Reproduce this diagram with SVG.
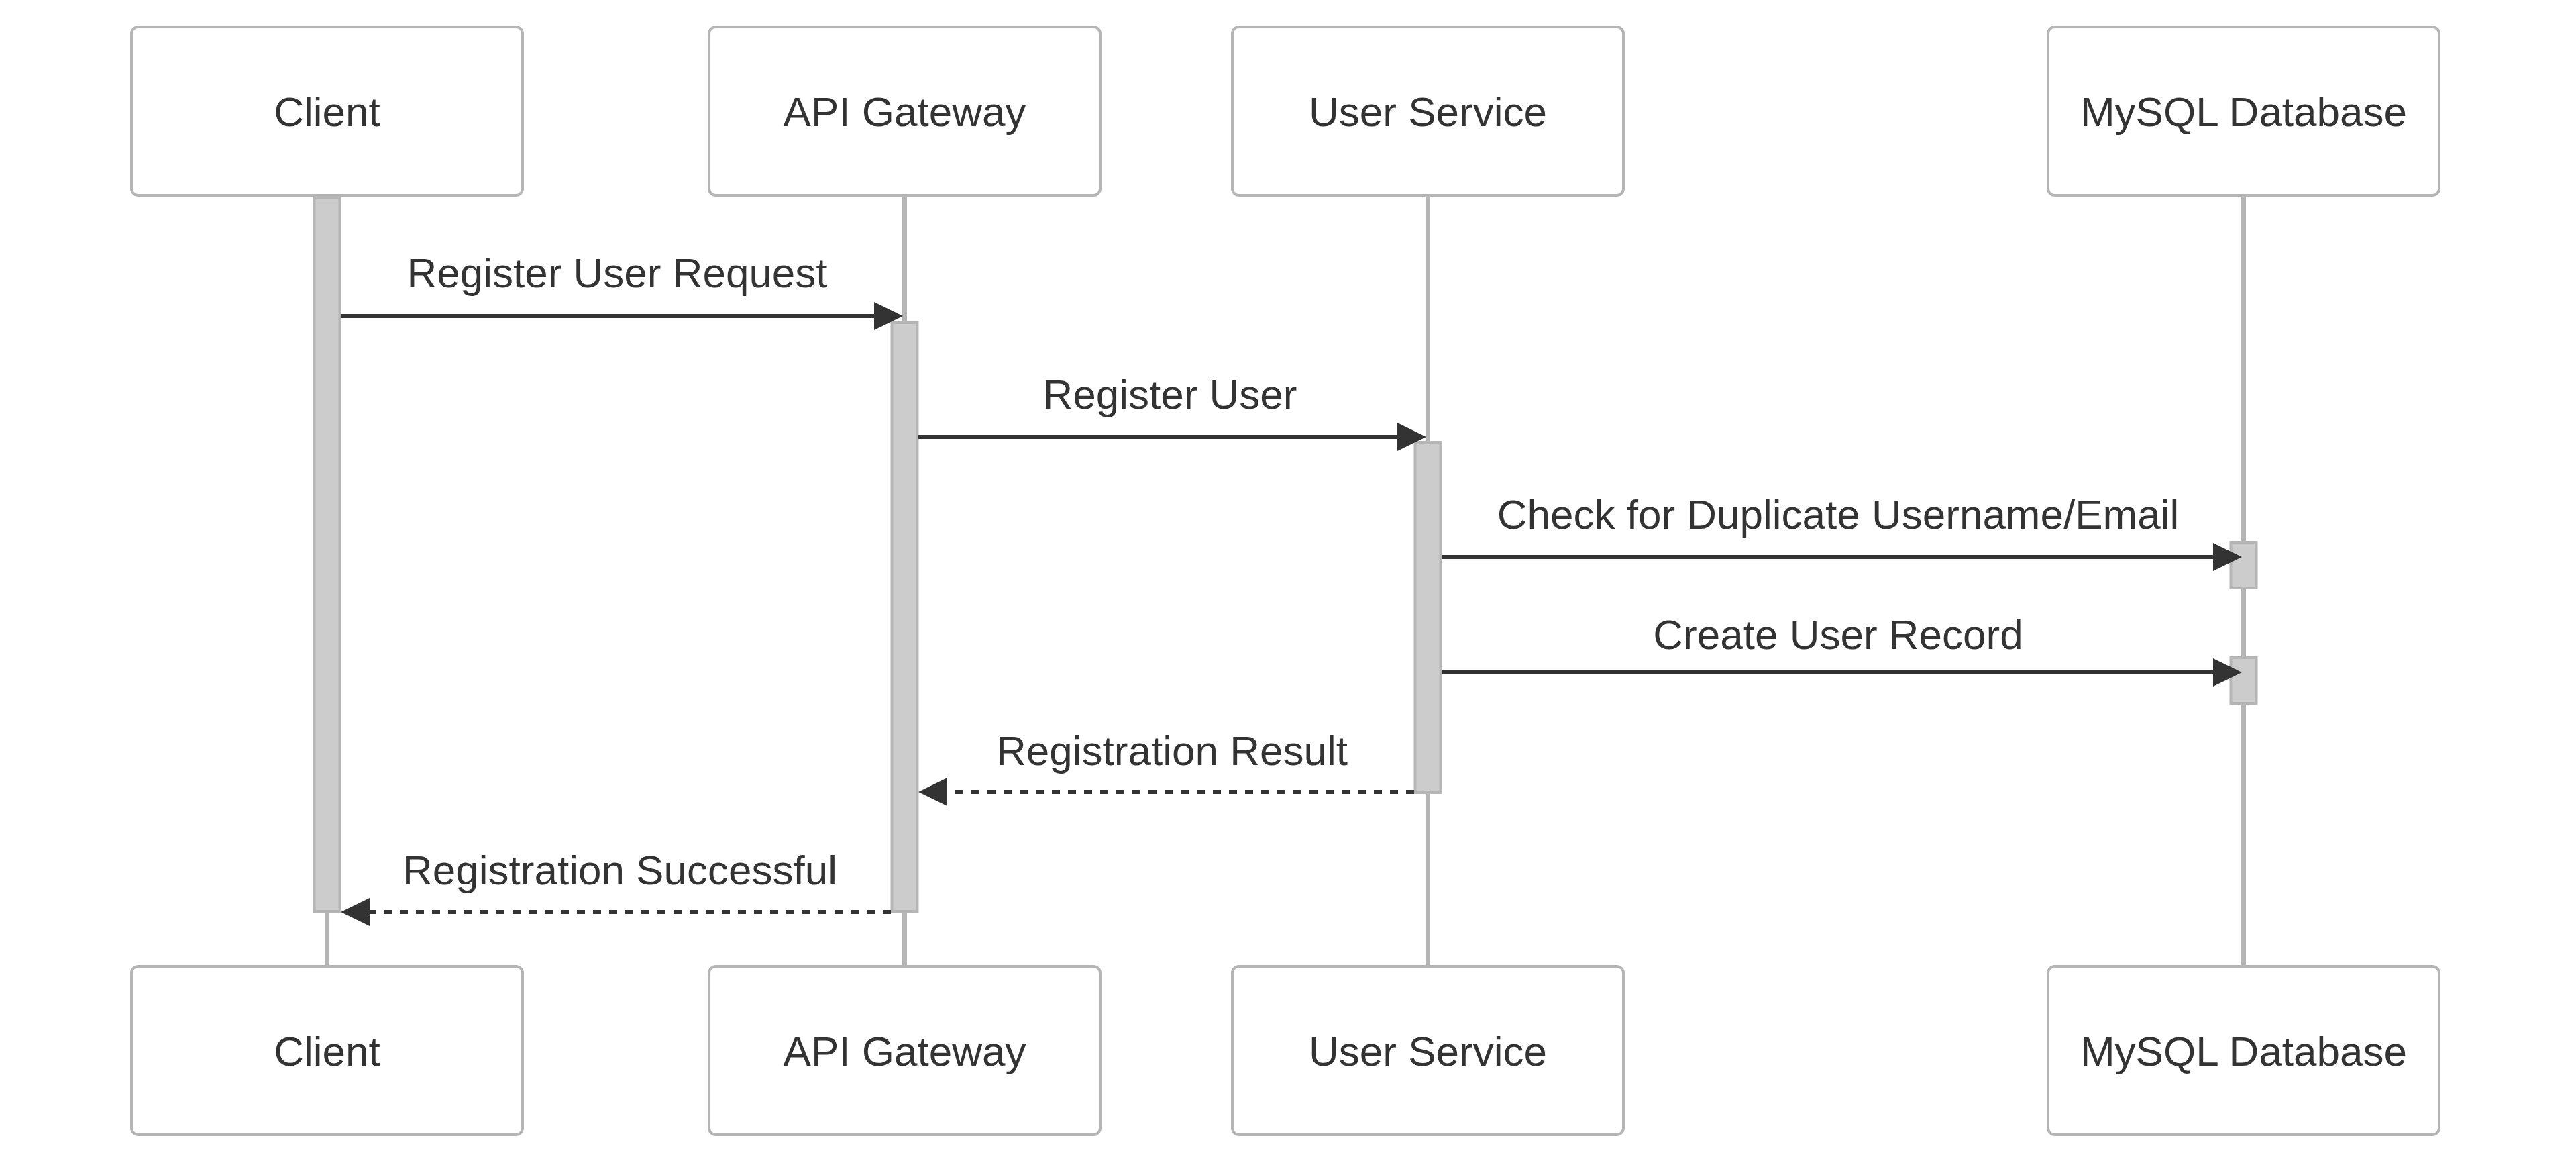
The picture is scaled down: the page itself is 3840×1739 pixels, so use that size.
<svg xmlns="http://www.w3.org/2000/svg" width="3840" height="1739" viewBox="0 0 3840 1739">
<style>
.bg{fill:#ffffff}
.actor{fill:#ffffff;stroke:#b5b5b5;stroke-width:4}
.alabel{font-family:"Liberation Sans",Arial,sans-serif;font-size:62px;fill:#333333;text-anchor:middle;dominant-baseline:central}
.life{stroke:#b5b5b5;stroke-width:7;fill:none}
.act{fill:#cccccc;stroke:#b5b5b5;stroke-width:4}
.msg{stroke:#333333;stroke-width:6;fill:none}
.dash{stroke-dasharray:12 12}
.head{fill:#333333}
.mlabel{font-family:"Liberation Sans",Arial,sans-serif;font-size:62px;fill:#333333;text-anchor:middle}
</style>
<defs>
<polygon id="ahR" class="head" points="0,0 -43,-21 -43,21"/>
<polygon id="ahL" class="head" points="0,0 43,-21 43,21"/>
</defs>
<rect class="bg" x="0" y="0" width="3840" height="1739"/>

<g id="lifelines">
<line class="life" x1="487.5" y1="292" x2="487.5" y2="1439"/>
<line class="life" x1="1348.5" y1="292" x2="1348.5" y2="1439"/>
<line class="life" x1="2128.5" y1="292" x2="2128.5" y2="1439"/>
<line class="life" x1="3344.5" y1="292" x2="3344.5" y2="1439"/>
</g>

<g id="node-client">
<rect class="actor" x="196" y="40" width="583" height="251" rx="10"/>
<text class="alabel" x="487.5" y="166">Client</text>
<rect class="actor" x="196" y="1440" width="583" height="251" rx="10"/>
<text class="alabel" x="487.5" y="1566">Client</text>
</g>
<g id="node-api">
<rect class="actor" x="1057" y="40" width="583" height="251" rx="10"/>
<text class="alabel" x="1348.5" y="166">API Gateway</text>
<rect class="actor" x="1057" y="1440" width="583" height="251" rx="10"/>
<text class="alabel" x="1348.5" y="1566">API Gateway</text>
</g>
<g id="node-user">
<rect class="actor" x="1837" y="40" width="583" height="251" rx="10"/>
<text class="alabel" x="2128.5" y="166">User Service</text>
<rect class="actor" x="1837" y="1440" width="583" height="251" rx="10"/>
<text class="alabel" x="2128.5" y="1566">User Service</text>
</g>
<g id="node-mysql">
<rect class="actor" x="3053" y="40" width="583" height="251" rx="10"/>
<text class="alabel" x="3344.5" y="166">MySQL Database</text>
<rect class="actor" x="3053" y="1440" width="583" height="251" rx="10"/>
<text class="alabel" x="3344.5" y="1566">MySQL Database</text>
</g>

<g id="activations">
<rect class="act" x="468.5" y="295" width="38" height="1063"/>
<rect class="act" x="1329.5" y="481" width="38" height="877"/>
<rect class="act" x="2109.5" y="659" width="38" height="522"/>
<rect class="act" x="3325.5" y="808" width="38" height="68"/>
<rect class="act" x="3325.5" y="980" width="38" height="68"/>
</g>

<g id="connectors">
<line class="msg" x1="508" y1="471" x2="1310" y2="471"/>
<use href="#ahR" x="1346" y="471"/>
<text class="mlabel" x="920" y="428">Register User Request</text>

<line class="msg" x1="1369" y1="651" x2="2090" y2="651"/>
<use href="#ahR" x="2126" y="651"/>
<text class="mlabel" x="1744" y="609">Register User</text>

<line class="msg" x1="2149" y1="830" x2="3306" y2="830"/>
<use href="#ahR" x="3342" y="830"/>
<text class="mlabel" x="2740" y="788">Check for Duplicate Username/Email</text>

<line class="msg" x1="2149" y1="1002" x2="3306" y2="1002"/>
<use href="#ahR" x="3342" y="1002"/>
<text class="mlabel" x="2740" y="967">Create User Record</text>

<line class="msg dash" x1="2108" y1="1180" x2="1405" y2="1180"/>
<use href="#ahL" x="1369" y="1180"/>
<text class="mlabel" x="1747" y="1140">Registration Result</text>

<line class="msg dash" x1="1328" y1="1359" x2="544" y2="1359"/>
<use href="#ahL" x="508" y="1359"/>
<text class="mlabel" x="924" y="1318">Registration Successful</text>
</g>
</svg>
